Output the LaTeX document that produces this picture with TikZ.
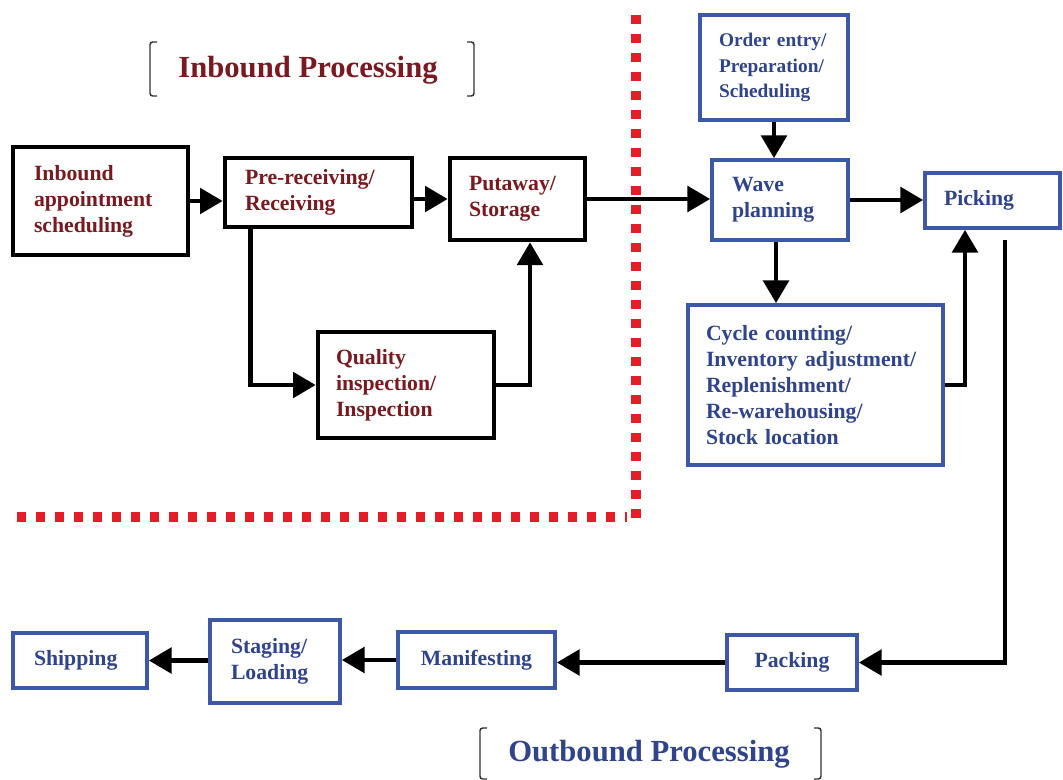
\documentclass[tikz,border=0pt]{standalone}
\usepackage{fontspec}
\setmainfont{Liberation Serif}
\usetikzlibrary{arrows.meta,calc}
\hyphenpenalty=10000
\exhyphenpenalty=10000
\definecolor{inred}{RGB}{122,26,32}
\definecolor{outtext}{RGB}{48,68,140}
\definecolor{outborder}{RGB}{62,88,168}
\definecolor{dotred}{RGB}{228,30,40}
\def\pxu{0.75pt}
\tikzset{
  boxtxt/.style={font=\fontsize{16.3}{19.5}\selectfont\bfseries},
  smalltxt/.style={font=\fontsize{14.5}{19.2}\selectfont\bfseries},
  inbox/.style={draw=black, line width=3.5pt, boxtxt, text=inred, align=left, inner ysep=0pt},
  outbox/.style={draw=outborder, line width=2.8pt, boxtxt, text=outtext, align=left, inner ysep=0pt},
  arr/.style={line width=3.3pt, -{Triangle[length=17pt,width=19pt]}},
  dots/.style={dotred, line width=6.8pt, dash pattern=on 6.8pt off 7.45pt},
  brk/.style={line width=1.1pt, black!80, rounded corners=2pt},
  title/.style={font=\fontsize{23}{27}\selectfont\bfseries}
}
\newcommand{\mkbox}[8]{% style, name, cx, cy, W, H, pad, text
  \node[#1, minimum width={#5*\pxu}, minimum height={#6*\pxu}, text width={(#5-2*#7)*\pxu}, inner xsep={#7*\pxu}] (#2) at (#3,#4) {#8};}
\begin{document}
\begin{tikzpicture}[x=0.75pt,y=-0.75pt]
\useasboundingbox (0,0) rectangle (1063,779);
\fill[white] (0,0) rectangle (1063,779);
% red dotted boundary
\draw[dots] (636,15) -- (636,518);
\draw[dots] (17,517) -- (627,517);
% titles with brackets
\node[title, text=inred] (tin) at (308,70) {Inbound Processing};
\draw[brk] (157,42) -- (150,42) -- (150,96) -- (157,96);
\draw[brk] (467,42) -- (474,42) -- (474,96) -- (467,96);
\node[title, text=outtext] (tout) at (649,754) {Outbound Processing};
\draw[brk] (487,728) -- (480,728) -- (480,779) -- (487,779);
\draw[brk] (814,728) -- (821,728) -- (821,779) -- (814,779);
% inbound boxes
\mkbox{inbox}{inb}{100.5}{201}{175}{108}{21}{Inbound\\appointment\\scheduling}
\mkbox{inbox}{pre}{318.5}{192.5}{187}{69}{20}{Pre-receiving/\\Receiving}
\mkbox{inbox}{put}{517.5}{199}{135}{82}{19}{Putaway/\\Storage}
\mkbox{inbox}{qua}{406}{385}{176}{106}{18}{Quality\\inspection/\\Inspection}
% outbound boxes
\mkbox{outbox,smalltxt}{ord}{774}{67.5}{148}{105}{19}{Order entry/\\Preparation/\\Scheduling}
\mkbox{outbox}{wav}{780}{200}{136}{80}{20}{Wave\\planning}
\mkbox{outbox}{pic}{992.5}{200.5}{135}{55}{19}{Picking}
\mkbox{outbox}{cyc}{815.5}{385}{255}{160}{18}{Cycle counting/\\Inventory adjustment/\\Replenishment/\\Re-warehousing/\\Stock location}
\node[outbox, minimum width={130*\pxu}, minimum height={55*\pxu}, align=center] (pac) at (792,662.5) {Packing};
\node[outbox, minimum width={157*\pxu}, minimum height={56*\pxu}, align=center] (man) at (476.5,660) {Manifesting};
\mkbox{outbox}{sta}{275}{661.5}{130}{83}{21}{Staging/\\Loading}
\mkbox{outbox}{shi}{80}{660.5}{134}{55}{21}{Shipping}
% connectors
\draw[arr] (inb.east) -- (inb.east -| pre.west);
\draw[arr] (pre.east |- put.west) -- (put.west);
\draw[arr] (put.east) -- (put.east -| wav.west);
\draw[arr] ([xshift={28*\pxu}]pre.south west) |- (qua.west);
\draw[arr] (qua.east) -| ([xshift={12.5*\pxu}]put.south);
\draw[arr] (ord.south) -- (ord.south |- wav.north);
\draw[arr] (wav.east) -- (wav.east -| pic.west);
\draw[arr] ([xshift={-4*\pxu}]wav.south) -- ([xshift={-4*\pxu}]wav.south |- cyc.north);
\draw[arr] (cyc.east) -| ([xshift={-27.5*\pxu}]pic.south);
\coordinate (picout) at (1005,240);
\draw[arr] (picout) |- (pac.east);
\draw[arr] (pac.west) -- (pac.west -| man.east);
\draw[arr] (man.west) -- (man.west -| sta.east);
\draw[arr] (sta.west |- shi.east) -- (shi.east);
\end{tikzpicture}
\end{document}
